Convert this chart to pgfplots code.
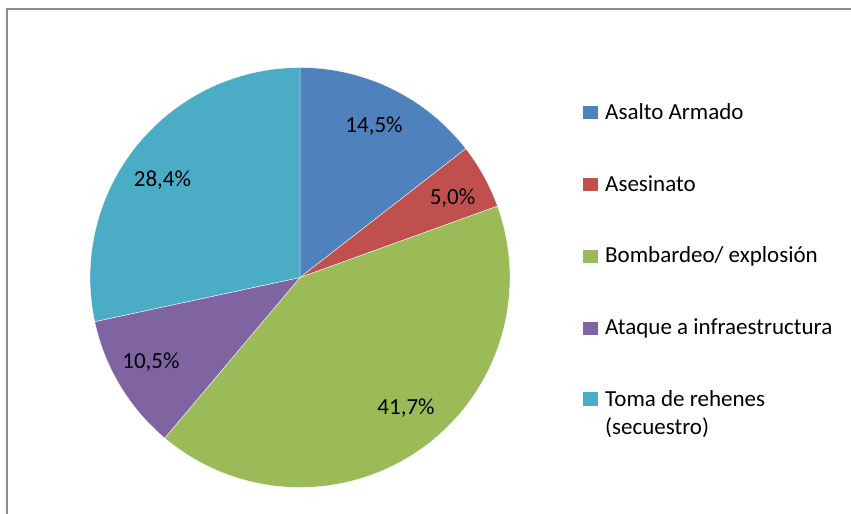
\documentclass[border=0pt]{standalone}
\usepackage{pgfplots}
\pgfplotsset{compat=1.18}
\usepackage{fontspec}
\setmainfont{Carlito}
\definecolor{cA}{HTML}{4F81BD}
\definecolor{cB}{HTML}{C0504D}
\definecolor{cC}{HTML}{9BBB59}
\definecolor{cD}{HTML}{8064A2}
\definecolor{cE}{HTML}{4BACC6}
% data (percent)
\def\pA{14.5}\def\pB{5.0}\def\pC{41.7}\def\pD{10.5}\def\pE{28.4}
\pgfmathsetmacro\tot{\pA+\pB+\pC+\pD+\pE}
\pgfmathsetmacro\aA{90}
\pgfmathsetmacro\aB{\aA-360*\pA/\tot}
\pgfmathsetmacro\aC{\aB-360*\pB/\tot}
\pgfmathsetmacro\aD{\aC-360*\pC/\tot}
\pgfmathsetmacro\aE{\aD-360*\pD/\tot}
\pgfmathsetmacro\aF{\aE-360*\pE/\tot}
\begin{document}
\begin{tikzpicture}
\begin{axis}[scale only axis, width=851bp, height=514bp,
  xmin=0, xmax=851, ymin=0, ymax=514, hide axis, clip=false,
  samples=90]
\def\cx{300}\def\cy{236.5}\def\R{210}
\addplot[fill=cA, draw=white, line width=0.35bp, domain=\aB:\aA] ({\cx+\R*cos(x)},{\cy+\R*sin(x)}) -- (axis cs:300,236.5) -- cycle;
\addplot[fill=cB, draw=white, line width=0.35bp, domain=\aC:\aB] ({\cx+\R*cos(x)},{\cy+\R*sin(x)}) -- (axis cs:300,236.5) -- cycle;
\addplot[fill=cC, draw=white, line width=0.35bp, domain=\aD:\aC] ({\cx+\R*cos(x)},{\cy+\R*sin(x)}) -- (axis cs:300,236.5) -- cycle;
\addplot[fill=cD, draw=white, line width=0.35bp, domain=\aE:\aD] ({\cx+\R*cos(x)},{\cy+\R*sin(x)}) -- (axis cs:300,236.5) -- cycle;
\addplot[fill=cE, draw=white, line width=0.35bp, domain=\aF:\aE] ({\cx+\R*cos(x)},{\cy+\R*sin(x)}) -- (axis cs:300,236.5) -- cycle;
% data labels
\begin{scope}[every node/.style={font=\fontsize{23bp}{27bp}\selectfont, inner sep=0pt}]
\node[anchor=base] at (axis cs:374,381.7) {14,5\%};
\node[anchor=base] at (axis cs:452.5,309) {5,0\%};
\node[anchor=base] at (axis cs:406,99.7) {41,7\%};
\node[anchor=base] at (axis cs:151,145.7) {10,5\%};
\node[anchor=base] at (axis cs:162.5,327) {28,4\%};
% legend
\fill[cA] (axis cs:583,408) rectangle (axis cs:598,394.5);
\node[anchor=base west] at (axis cs:605,394.7) {Asalto Armado};
\fill[cB] (axis cs:583,336) rectangle (axis cs:598,322.5);
\node[anchor=base west] at (axis cs:605,322.3) {Asesinato};
\fill[cC] (axis cs:583,264) rectangle (axis cs:598,250.5);
\node[anchor=base west] at (axis cs:605,251) {Bombardeo/ explosión};
\fill[cD] (axis cs:583,192) rectangle (axis cs:598,178.5);
\node[anchor=base west] at (axis cs:605,179) {Ataque a infraestructura};
\fill[cE] (axis cs:583,122) rectangle (axis cs:598,108);
\node[anchor=base west] at (axis cs:605,107.3) {Toma de rehenes};
\node[anchor=base west] at (axis cs:605,79.5) {(secuestro)};
\end{scope}
\draw[color=black!45, line width=2bp] (axis cs:6.5,-20) -- (axis cs:6.5,505) -- (axis cs:870,505);
\end{axis}
\pgfresetboundingbox
\useasboundingbox (0,0) rectangle (851bp,514bp);
\end{tikzpicture}
\end{document}
